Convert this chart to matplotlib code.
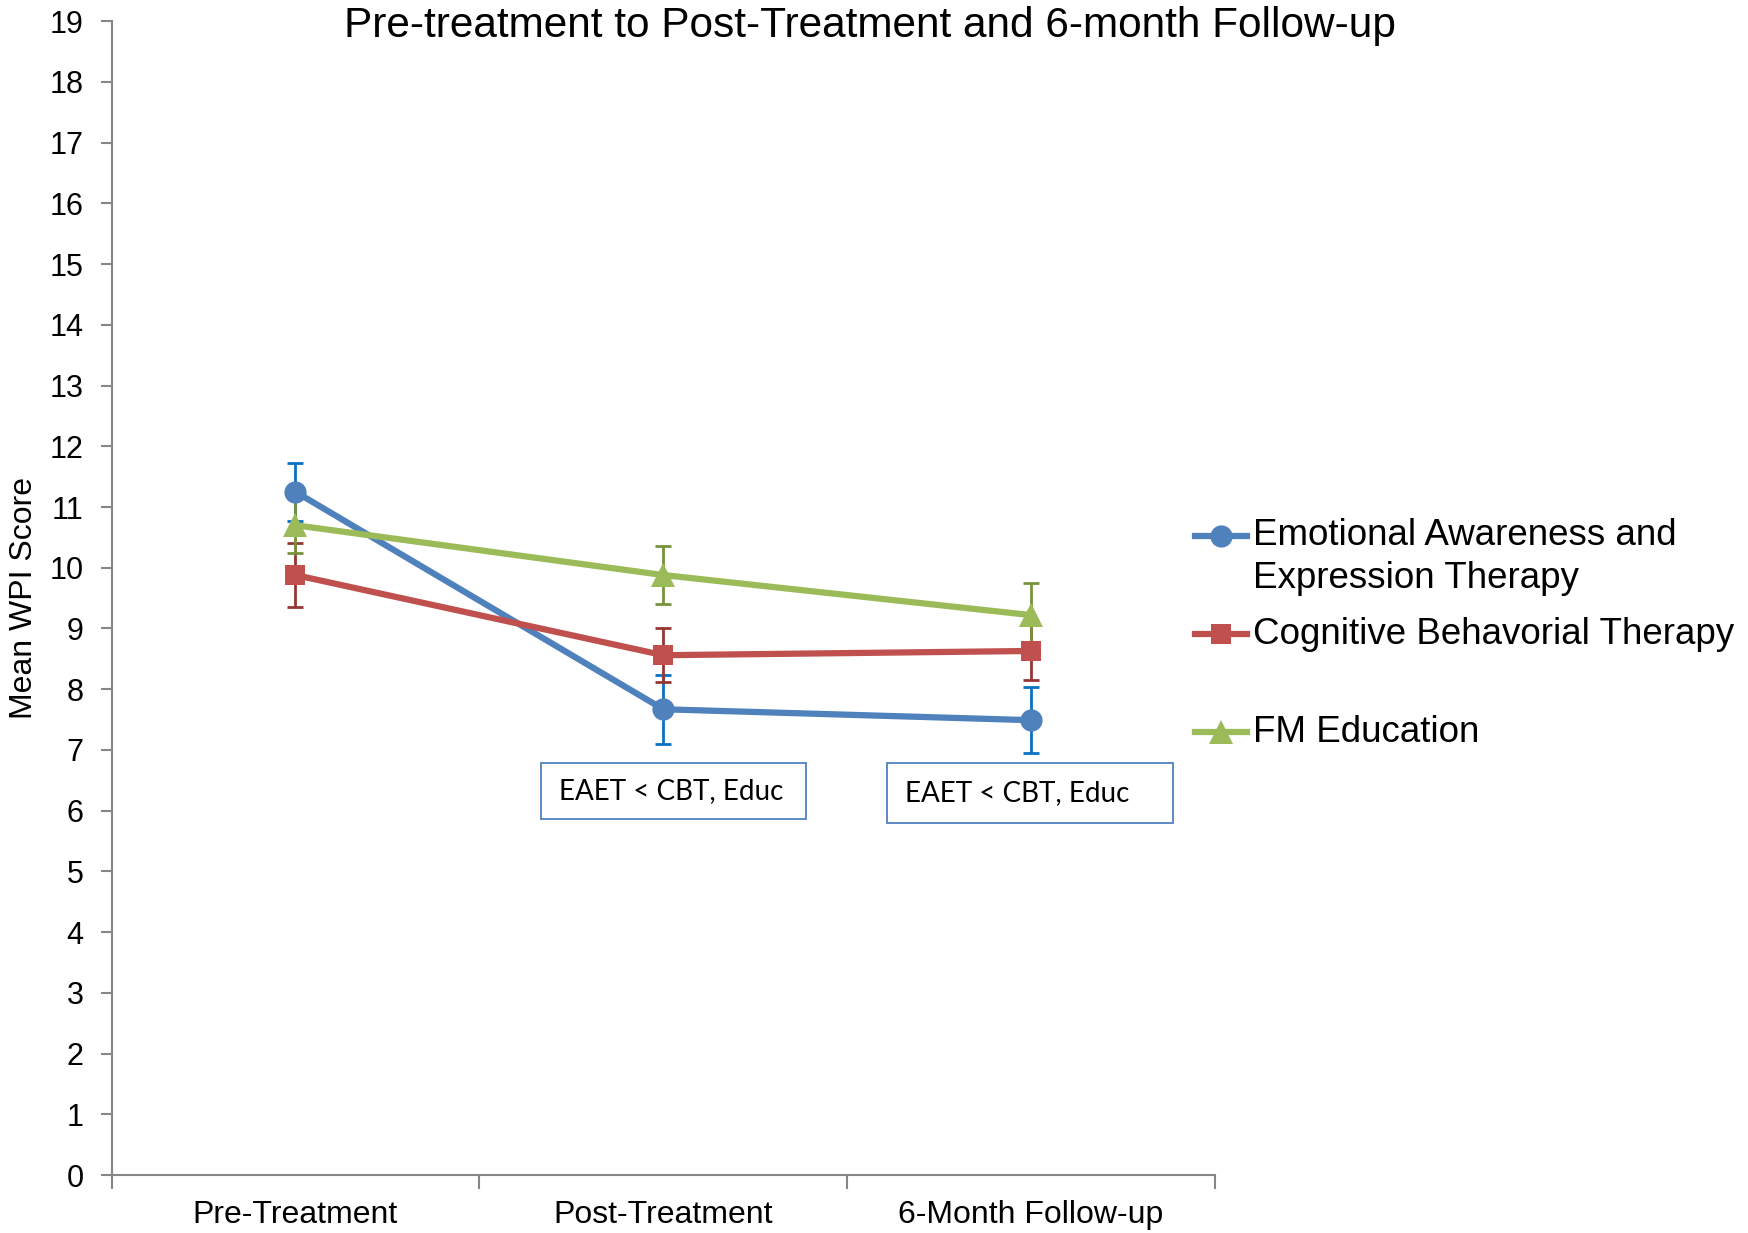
import matplotlib
matplotlib.use('Agg')
import matplotlib.pyplot as plt
from matplotlib.lines import Line2D
from matplotlib.patches import Rectangle

plt.rcParams['font.family'] = ['Liberation Sans', 'DejaVu Sans']

timepoints = ['Pre-Treatment', 'Post-Treatment', '6-Month Follow-up']

# group means and standard errors at each time point
eaet_mean = [11.25, 7.67, 7.49]
eaet_err = [0.48, 0.57, 0.54]
cbt_mean = [9.88, 8.56, 8.63]
cbt_err = [0.52, 0.44, 0.48]
educ_mean = [10.70, 9.88, 9.22]
educ_err = [0.45, 0.48, 0.53]

group_labels = ['Emotional Awareness and\nExpression Therapy',
                'Cognitive Behavorial Therapy',
                'FM Education']
contrast_text = 'EAET < CBT, Educ'

series = [
    {'mean': eaet_mean, 'err': eaet_err, 'color': '#4F81BD', 'ecolor': '#0A72C4', 'marker': 'o', 'ms': 16},
    {'mean': cbt_mean, 'err': cbt_err, 'color': '#C0504D', 'ecolor': '#953735', 'marker': 's', 'ms': 15},
    {'mean': educ_mean, 'err': educ_err, 'color': '#9BBB59', 'ecolor': '#77933C', 'marker': '^', 'ms': 17},
]

fig = plt.figure(figsize=(17.48, 12.33), dpi=100)
ax = fig.add_axes([0.0638, 0.0470, 0.6313, 0.9358])

x = list(range(len(timepoints)))

# error bars first, then the lines on top of them
for s in series:
    ax.errorbar(x, s['mean'], yerr=s['err'], fmt='none', ecolor=s['ecolor'],
                elinewidth=2.0, capsize=6, capthick=2.0, zorder=2)
for s in series:
    ax.plot(x, s['mean'], color=s['color'], lw=4.5, marker=s['marker'],
            ms=s['ms'], markeredgewidth=0, zorder=3)

ax.set_xlim(-0.5, 2.5)
ax.set_ylim(0, 19)
ax.set_yticks(range(0, 20))
ax.set_xticks(x)
ax.set_xticklabels(timepoints, fontsize=23)
ax.set_xticks([-0.5, 0.5, 1.5, 2.5], minor=True)
ax.tick_params(axis='x', which='major', length=0, pad=18)
ax.tick_params(axis='x', which='minor', length=10, width=1.5, color='#868686', direction='out')
ax.tick_params(axis='y', labelsize=22, length=8, width=1.5, color='#868686', pad=12)

for side in ['top', 'right']:
    ax.spines[side].set_visible(False)
for side in ['left', 'bottom']:
    ax.spines[side].set_color('#868686')
    ax.spines[side].set_linewidth(1.5)

ax.set_ylabel('Mean WPI Score', fontsize=23)
ax.yaxis.set_label_coords(-0.066, 0.5)

# contrast boxes under post-treatment and follow-up
for x0, x1, y0, y1 in [(0.667, 1.388, 5.855, 6.79), (1.608, 2.386, 5.80, 6.79)]:
    ax.add_patch(Rectangle((x0, y0), x1 - x0, y1 - y0, fill=False,
                           edgecolor='#4F81BD', lw=1.3, zorder=4))
    ax.text(x0 + 0.05, (y0 + y1) / 2, contrast_text, fontsize=20,
            family=['Lato', 'DejaVu Sans'], va='center', ha='left', zorder=5)

fig.text(0.4975, 1 - 26 / 1233, 'Pre-treatment to Post-Treatment and 6-month Follow-up',
         fontsize=30.5, ha='center', va='center')

# legend drawn by hand: handle sits beside the first line of each label
legend_y = [0.5653, 0.4858, 0.4060]
line_x0, line_x1, text_x = 0.6836, 0.7134, 0.7168
for s, label, ly in zip(series, group_labels, legend_y):
    fig.add_artist(Line2D([line_x0, line_x1], [ly, ly], color=s['color'], lw=4.5))
    fig.add_artist(Line2D([(line_x0 + line_x1) / 2], [ly], color=s['color'],
                          marker=s['marker'], ms=s['ms'], markeredgewidth=0))
    first, *rest = label.split('\n')
    fig.text(text_x, ly, first, fontsize=26.5, va='center', ha='left')
    for i, extra in enumerate(rest, start=1):
        fig.text(text_x, ly - i * 43 / 1233, extra, fontsize=26.5, va='center', ha='left')

fig.savefig('out.png', dpi=100)
